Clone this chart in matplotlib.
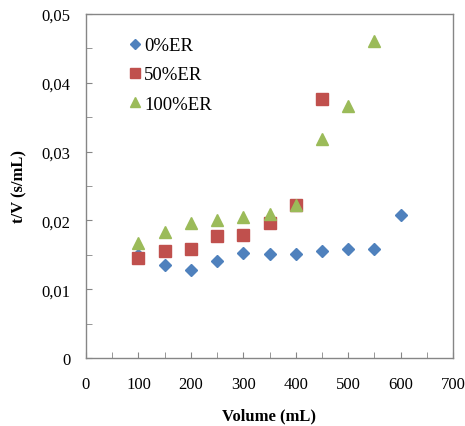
import matplotlib.pyplot as plt
from matplotlib.ticker import MultipleLocator, FuncFormatter

# data
vol_0 = [100, 150, 200, 250, 300, 350, 400, 450, 500, 550, 600]
tv_0 = [0.0150, 0.0135, 0.0128, 0.0141, 0.0153, 0.0151, 0.0151, 0.0155, 0.0159, 0.0159, 0.0208]

vol_50 = [100, 150, 200, 250, 300, 350, 400, 450]
tv_50 = [0.0145, 0.0155, 0.0159, 0.0177, 0.0179, 0.0196, 0.0222, 0.0377]

vol_100 = [100, 150, 200, 250, 300, 350, 400, 450, 500, 550]
tv_100 = [0.0167, 0.0183, 0.0196, 0.0201, 0.0205, 0.0209, 0.0222, 0.0318, 0.0367, 0.0461]

labels = ['0%ER', '50%ER', '100%ER']

plt.rcParams['font.family'] = ['Liberation Serif', 'DejaVu Serif']

fig = plt.figure(figsize=(4.65, 4.27), dpi=100)
ax = fig.add_axes([86 / 465, 1 - 359 / 427, (453 - 86) / 465, (359 - 15) / 427])

ax.plot(vol_0, tv_0, 'D', color='#4F81BD', markersize=6.5, label=labels[0], linestyle='none')
ax.plot(vol_50, tv_50, 's', color='#C0504D', markersize=8.5, label=labels[1], linestyle='none')
ax.plot(vol_100, tv_100, '^', color='#9BBB59', markersize=9, label=labels[2], linestyle='none')

ax.set_xlim(0, 700)
ax.set_ylim(0, 0.05)
ax.xaxis.set_major_locator(MultipleLocator(100))
ax.xaxis.set_minor_locator(MultipleLocator(50))
ax.yaxis.set_major_locator(MultipleLocator(0.01))
ax.yaxis.set_minor_locator(MultipleLocator(0.005))


def comma(v, pos):
    if abs(v) < 1e-12:
        return '0'
    return ('%g' % round(v, 4)).replace('.', ',')


ax.yaxis.set_major_formatter(FuncFormatter(comma))
ax.tick_params(which='both', direction='in', length=4, color='#868686', labelsize=12)
ax.tick_params(axis='x', pad=13)
ax.tick_params(axis='y', pad=11)

for s in ax.spines.values():
    s.set_color('#868686')
    s.set_linewidth(1.0)

ax.set_xlabel('Volume (mL)', fontweight='bold', fontsize=12, labelpad=11)
ax.set_ylabel('t/V (s/mL)', fontweight='bold', fontsize=12, labelpad=10)

ax.legend(loc='upper left', bbox_to_anchor=(0.1, 0.955), frameon=False, fontsize=13.5,
          handlelength=0.5, handletextpad=0.25, labelspacing=0.65, borderaxespad=0,
          markerscale=0.8)

fig.savefig('out.png', dpi=100)
